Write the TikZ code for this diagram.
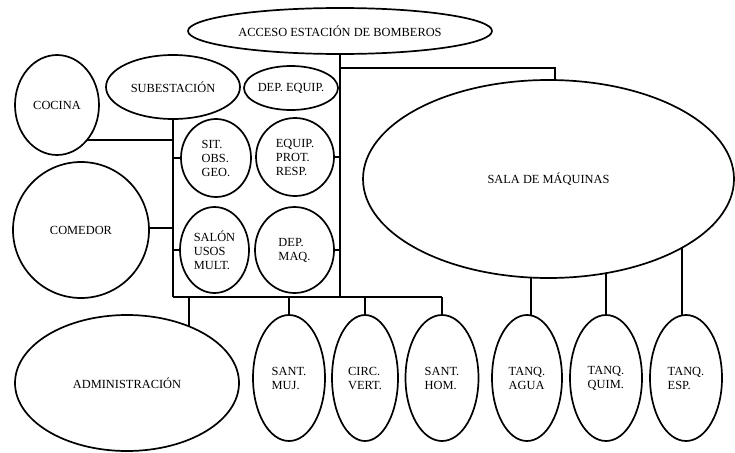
\documentclass[tikz,border=0pt]{standalone}
\usepackage{fontspec}
\setmainfont{Liberation Serif}
\usetikzlibrary{shapes.geometric,backgrounds}

\begin{document}
\begin{tikzpicture}[x=1pt,y=-1pt,
  room/.style={ellipse,draw,fill=white,line width=1.7pt,inner sep=0pt,
    align=left,font=\fontsize{12.4}{14}\selectfont},
  link/.style={line width=1.7pt}]
\useasboundingbox (0,0) rectangle (735,452);

% rooms: centre, then full width and height
\newcommand{\room}[6]{\node[room,minimum width=#4pt,minimum height=#5pt] (#1) at (#2,#3) {#6};}
\room{acceso}{340}{31}{304}{46}{ACCESO ESTACIÓN DE BOMBEROS}
\room{cocina}{57}{105}{84}{100}{COCINA}
\room{subest}{173}{87}{134}{64}{SUBESTACIÓN}
\room{depequip}{291}{88}{88}{44}{DEP. EQUIP.}
\room{sala}{548.5}{179}{371}{198}{SALA DE MÁQUINAS}
\room{sit}{216}{158}{70}{78}{SIT.\\OBS.\\GEO.}
\room{equip}{295}{157}{78}{78}{EQUIP.\\PROT.\\RESP.}
\room{salon}{214.5}{250}{69}{86}{SALÓN\\USOS\\MULT.}
\room{depmaq}{294.5}{250}{79}{86}{DEP.\\MAQ.}
\room{comedor}{81}{230}{136}{136}{COMEDOR}
\room{admin}{127}{383}{224}{136}{ADMINISTRACIÓN}
\room{santmuj}{289}{378}{72}{126}{SANT.\\MUJ.}
\room{circ}{365}{378}{66}{126}{CIRC.\\VERT.}
\room{santhom}{442}{378}{73}{126}{SANT.\\HOM.}
\room{agua}{527}{378}{70}{126}{TANQ.\\AGUA}
\room{quim}{606}{378}{72}{126}{TANQ.\\QUIM.}
\room{esp}{686}{378}{72}{126}{TANQ.\\ESP.}

% corridor junctions
\coordinate (rb) at (340,297);
\coordinate (lb) at (173,297);
\coordinate (j1) at (340,68);
\coordinate (j2) at (555,68);
\coordinate (ad) at (189,297);

\begin{pgfonlayer}{background}
  % main corridors
  \draw[link] (acceso) -- (rb);
  \draw[link] (subest) -- (lb);
  \draw[link] (lb) -- (santhom |- lb);
  \draw[link] (j1) -- (j2) -- (j2 |- sala.center);
  % left corridor branches
  \draw[link] (cocina |- 0,140) -- (lb |- 0,140);
  \draw[link] (comedor |- 0,228) -- (lb |- 0,228);
  \draw[link] (sit) -- (sit -| lb);
  \draw[link] (salon) -- (salon -| lb);
  % right corridor branches
  \draw[link] (depequip) -- (depequip -| rb);
  \draw[link] (equip) -- (equip -| rb);
  \draw[link] (depmaq) -- (depmaq -| rb);
  % lower branches
  \draw[link] (ad) -- (ad |- admin.center);
  \draw[link] (santmuj) -- (santmuj |- lb);
  \draw[link] (circ) -- (circ |- lb);
  \draw[link] (santhom) -- (santhom |- lb);
  % tanks below the machine room
  \draw[link] ([xshift=4pt]agua.center) -- ([xshift=4pt]agua.center |- sala.center);
  \draw[link] (quim) -- (quim |- sala.center);
  \draw[link] ([xshift=-4pt]esp.center) -- ([xshift=-4pt]esp.center |- sala.center);
\end{pgfonlayer}
\end{tikzpicture}
\end{document}
